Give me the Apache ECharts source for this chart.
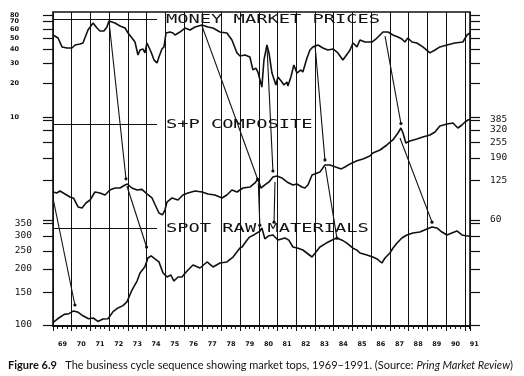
<!DOCTYPE html>
<html>
<head>
<meta charset="utf-8">
<script src="https://cdn.jsdelivr.net/npm/echarts@6/dist/echarts.min.js"></script>
<style>
  html, body { margin: 0; padding: 0; background: #fff; }
  #main { width: 524px; height: 376px; }
</style>
</head>
<body>
<div id="main"></div>
<script>
// monthly-ish readings, [year, value]
const moneyMarket = [
  [1969.0, 53.2], [1969.27, 50.0], [1969.48, 41.7], [1969.75, 40.8], [1970.01, 40.8], [1970.18, 43.4],
  [1970.44, 44.3], [1970.60, 45.2], [1970.87, 58.9], [1971.14, 67.9], [1971.35, 61.3], [1971.51, 57.7],
  [1971.72, 57.7], [1971.88, 62.6], [1971.99, 70.7], [1972.31, 67.9], [1972.58, 63.9], [1972.85, 61.3],
  [1973.01, 55.4], [1973.22, 50.0], [1973.38, 46.1], [1973.54, 35.4], [1973.65, 39.2], [1973.81, 40.0],
  [1973.91, 36.9], [1974.02, 45.2], [1974.24, 37.6], [1974.40, 31.9], [1974.56, 30.1], [1974.66, 34.0],
  [1974.82, 40.0], [1974.93, 41.7], [1975.04, 55.4], [1975.25, 56.5], [1975.41, 55.4], [1975.52, 53.2],
  [1975.78, 56.5], [1976.05, 61.3], [1976.32, 58.9], [1976.59, 62.6], [1976.96, 65.2], [1977.28, 62.6],
  [1977.55, 61.3], [1977.92, 56.5], [1978.29, 55.4], [1978.56, 48.0], [1978.83, 36.9], [1978.99, 34.7],
  [1979.26, 35.4], [1979.52, 34.0], [1979.68, 26.1], [1979.84, 27.1], [1979.95, 25.0], [1980.16, 18.4],
  [1980.27, 31.9], [1980.43, 43.4], [1980.54, 36.9], [1980.70, 24.5], [1980.91, 19.2], [1981.02, 22.6],
  [1981.23, 20.4], [1981.34, 19.2], [1981.50, 20.4], [1981.55, 18.8], [1981.71, 22.6], [1981.87, 28.9],
  [1982.03, 24.5], [1982.25, 26.1], [1982.35, 25.0], [1982.57, 33.3], [1982.73, 39.2], [1982.89, 41.7],
  [1983.16, 43.4], [1983.42, 40.8], [1983.69, 39.2], [1983.96, 40.0], [1984.22, 36.9], [1984.49, 31.9],
  [1984.76, 36.9], [1984.87, 39.2], [1985.03, 45.2], [1985.24, 41.7], [1985.40, 48.0], [1985.67, 46.1],
  [1986.04, 46.1], [1986.31, 50.0], [1986.63, 56.5], [1986.90, 56.5], [1987.16, 53.2], [1987.43, 51.1],
  [1987.64, 49.0], [1987.80, 46.1], [1987.96, 50.0], [1988.18, 46.1], [1988.44, 45.2], [1988.76, 41.7],
  [1989.14, 36.9], [1989.41, 39.2], [1989.67, 41.7], [1990.05, 43.4], [1990.47, 45.2], [1990.90, 46.1],
  [1991.12, 53.2], [1991.28, 55.4]
];
const spComposite = [
  [1969.0, 100.9], [1969.2, 99.1], [1969.37, 102.8], [1969.64, 97.3], [1969.91, 92.0], [1970.1, 90.0],
  [1970.34, 76.4], [1970.55, 75.0], [1970.76, 82.3], [1970.98, 87.0], [1971.24, 100.9], [1971.51, 99.1],
  [1971.78, 95.4], [1972.04, 104.8], [1972.31, 108.7], [1972.58, 108.7], [1972.85, 115.0], [1972.97, 117.1],
  [1973.22, 108.7], [1973.49, 104.8], [1973.75, 106.0], [1974.02, 97.3], [1974.29, 90.3], [1974.45, 80.0],
  [1974.66, 68.3], [1974.85, 66.0], [1974.98, 72.2], [1975.09, 83.8], [1975.36, 90.3], [1975.52, 88.6],
  [1975.68, 87.0], [1975.94, 95.4], [1976.21, 99.1], [1976.59, 102.8], [1976.96, 100.9], [1977.28, 97.3],
  [1977.65, 95.4], [1978.03, 90.3], [1978.29, 95.4], [1978.56, 104.8], [1978.83, 100.9], [1979.15, 108.7],
  [1979.52, 110.7], [1979.79, 119.3], [1979.95, 128.5], [1980.11, 108.7], [1980.32, 115.0], [1980.54, 121.6],
  [1980.75, 133.3], [1980.97, 135.8], [1981.23, 130.9], [1981.50, 121.6], [1981.82, 115.0], [1982.03, 117.0],
  [1982.30, 110.7], [1982.46, 108.7], [1982.62, 115.0], [1982.84, 138.4], [1983.26, 146.0], [1983.53, 166.6],
  [1983.80, 166.6], [1984.10, 160.5], [1984.40, 155.0], [1984.60, 160.5], [1984.87, 170.0], [1985.24, 180.0],
  [1985.56, 186.3], [1985.93, 196.9], [1986.09, 208.2], [1986.47, 220.1], [1986.84, 241.6], [1987.16, 265.1],
  [1987.43, 301.8], [1987.59, 331.3], [1987.70, 301.8], [1987.85, 250.7], [1988.07, 260.2], [1988.44, 270.0],
  [1988.76, 280.3], [1989.14, 290.9], [1989.41, 307.5], [1989.67, 343.9], [1990.05, 356.8], [1990.37, 363.4],
  [1990.63, 331.3], [1990.85, 350.2], [1991.01, 370.2], [1991.17, 384.3], [1991.28, 390.0]
];
const spotRaw = [
  [1969.0, 103], [1969.25, 108], [1969.6, 114], [1969.85, 115], [1970.1, 119], [1970.35, 117],
  [1970.6, 112], [1970.9, 108], [1971.15, 109], [1971.4, 104.5], [1971.67, 107.7], [1971.94, 108],
  [1972.21, 118], [1972.47, 123.4], [1972.74, 127], [1972.95, 133], [1973.22, 154], [1973.49, 172],
  [1973.65, 190], [1973.91, 205], [1974.07, 228.7], [1974.24, 235], [1974.45, 226], [1974.66, 218],
  [1974.88, 190], [1975.09, 181], [1975.30, 185.4], [1975.46, 172.1], [1975.68, 180.9], [1975.89, 180.9],
  [1976.16, 194.8], [1976.48, 209.8], [1976.85, 202.1], [1977.23, 217.7], [1977.55, 204.7], [1977.92, 215.0],
  [1978.29, 217.7], [1978.62, 231.5], [1978.99, 258.8], [1979.10, 262], [1979.36, 285], [1979.5, 296],
  [1979.75, 305], [1980.05, 318], [1980.16, 331], [1980.32, 290], [1980.5, 300], [1980.75, 303.8],
  [1981.02, 285.6], [1981.39, 292.8], [1981.6, 285], [1981.82, 262], [1982.1, 258], [1982.35, 252.4],
  [1982.84, 231.5], [1983.26, 262], [1983.6, 275], [1984.0, 288], [1984.17, 292.8], [1984.45, 285],
  [1984.7, 275], [1985.03, 258], [1985.24, 252], [1985.40, 243.3], [1985.77, 237.3], [1986.09, 231.5],
  [1986.31, 225.9], [1986.57, 215.0], [1986.74, 228.7], [1987.00, 243.3], [1987.16, 258], [1987.38, 275.3],
  [1987.64, 292.8], [1987.91, 303.8], [1988.23, 311.4], [1988.60, 315.2], [1988.98, 327.2], [1989.25, 335.4],
  [1989.51, 331.3], [1989.78, 315.2], [1990.05, 303.8], [1990.31, 311.4], [1990.58, 319.2], [1990.85, 303.8],
  [1991.12, 300.1], [1991.28, 300.1]
];

const mmTicks = [10, 20, 30, 40, 50, 60, 70, 80];
const spTicks = [60, 125, 190, 255, 320, 385];
const rawTicks = [100, 150, 200, 250, 300, 350];
const panelTitles = ['MONEY MARKET PRICES', 'S+P COMPOSITE', 'SPOT RAW MATERIALS'];
const leaderLevels = [73.7, 357, 331];   // level of the short line before each title
const leaderEnd = 1974.56;
// tops linked by the arrows: [year, value, panel] -> [year, value, panel]
const arrows = [
  [[1971.99, 70.7, 0], [1972.90, 129, 1]],
  [[1972.95, 112.8, 1], [1974.00, 262, 2]],
  [[1969.02, 87, 1], [1970.17, 128, 2]],
  [[1976.96, 64, 0], [1979.93, 128.5, 1]],
  [[1979.97, 119, 1], [1980.05, 343, 2]],
  [[1980.43, 43.4, 0], [1980.75, 149, 1]],
  [[1980.86, 121.6, 1], [1980.81, 356, 2]],
  [[1983.0, 43.4, 0], [1983.53, 183, 1]],
  [[1983.55, 160.5, 1], [1984.17, 292, 2]],
  [[1986.74, 52, 0], [1987.59, 360, 1]],
  [[1987.54, 275, 1], [1989.25, 356, 2]]
];

const ink = '#111';
const chart = echarts.init(document.getElementById('main'), null, { renderer: 'canvas' });

function logAxis(range, ticks, side, label, labelValues) {
  return {
    type: 'log', position: side, min: range[0], max: range[1],
    axisLine: { show: false },
    splitLine: { show: false },
    axisTick: ticks
      ? { show: true, customValues: ticks, length: 10, lineStyle: { color: ink, width: 1.2 } }
      : { show: false },
    axisLabel: label
      ? Object.assign({ customValues: labelValues, color: ink, hideOverlap: false }, label)
      : { show: false }
  };
}

const mmRange = [0.1414, 84.97];
const spRange = [8.38, 2855];
const rawRange = [98.77, 4767];
const smallDigits = { fontFamily: 'DejaVu Sans', fontWeight: 'bold', fontSize: 6.5 };
const wideDigits = { fontFamily: 'DejaVu Sans Mono', fontSize: 9.5 };
const mmLabel = Object.assign({ margin: 34, align: 'right' }, smallDigits);

function leader(level) {
  return {
    symbol: 'none', silent: true, label: { show: false },
    lineStyle: { color: ink, width: 1.2, type: 'solid' },
    data: [[{ coord: [1969, level] }, { coord: [leaderEnd, level] }]]
  };
}

const option = {
  animation: false,
  backgroundColor: '#fff',
  grid: { left: 53, right: 54, top: 12, bottom: 50, show: true, borderColor: ink, borderWidth: 1.6 },
  title: {
    left: 3, top: 355,
    text: '{b|Figure 6.9}   The business cycle sequence showing market tops, 1969–1991. (Source: {i|Pring Market Review})',
    textStyle: {
      fontFamily: 'Lato', fontSize: 11, fontWeight: 'normal', color: ink,
      rich: {
        b: { fontFamily: 'Lato', fontSize: 11, fontWeight: 'bold', color: ink },
        i: { fontFamily: 'Lato', fontSize: 11, fontStyle: 'italic', color: ink }
      }
    }
  },
  xAxis: {
    type: 'value', min: 1969, max: 1991.28, interval: 1,
    axisLine: { show: true, onZero: false, lineStyle: { color: ink, width: 2 } },
    axisTick: { show: true, length: 5, lineStyle: { color: ink, width: 1 } },
    minorTick: { show: true, splitNumber: 4, length: 3, lineStyle: { color: ink, width: 1 } },
    splitLine: { show: true, lineStyle: { color: ink, width: 1 } },
    axisLabel: Object.assign({}, smallDigits, {
      formatter: v => Number.isInteger(v) ? String(v).slice(2) : '',
      align: 'left', padding: [0, 0, 0, 5], margin: 15, color: ink
    })
  },
  yAxis: [
    logAxis(mmRange, mmTicks, 'left', mmLabel, mmTicks.slice(0, -1)),
    logAxis(mmRange, mmTicks, 'right', null),
    logAxis(spRange, spTicks, 'left', null),
    logAxis(spRange, spTicks, 'right', Object.assign({ margin: 20, align: 'left' }, wideDigits), spTicks),
    logAxis(rawRange, rawTicks, 'left', Object.assign({ margin: 21, align: 'right' }, wideDigits), rawTicks),
    logAxis(rawRange, rawTicks, 'right', null),
    // top money-market label sits too close to the next one for a single axis
    logAxis(mmRange, null, 'left', mmLabel, mmTicks.slice(-1))
  ],
  series: [
    { name: panelTitles[0], type: 'line', yAxisIndex: 0, data: moneyMarket, showSymbol: false,
      lineStyle: { color: ink, width: 1.6 }, markLine: leader(leaderLevels[0]) },
    { name: panelTitles[1], type: 'line', yAxisIndex: 3, data: spComposite, showSymbol: false,
      lineStyle: { color: ink, width: 1.6 }, markLine: leader(leaderLevels[1]) },
    { name: panelTitles[2], type: 'line', yAxisIndex: 4, data: spotRaw, showSymbol: false,
      lineStyle: { color: ink, width: 1.6 }, markLine: leader(leaderLevels[2]) }
  ]
};
chart.setOption(option);

// arrows and panel titles, placed through the axes
const panelAxis = [0, 3, 4];
const toPx = p => chart.convertToPixel({ xAxisIndex: 0, yAxisIndex: panelAxis[p[2]] }, [p[0], p[1]]);
const marks = [];
arrows.forEach(([from, to]) => {
  const a = toPx(from), b = toPx(to);
  marks.push({ type: 'line', z: 20, shape: { x1: a[0], y1: a[1], x2: b[0], y2: b[1] },
    style: { stroke: ink, lineWidth: 1.1 } });
  marks.push({ type: 'circle', z: 20, shape: { cx: b[0], cy: b[1], r: 1.6 }, style: { fill: ink } });
});
panelTitles.forEach((t, i) => {
  const p = toPx([leaderEnd, leaderLevels[i], i]);
  marks.push({ type: 'text', z: 20, x: 166, y: p[1] + 0.5, scaleX: 1.44,
    style: { text: t, x: 0, y: 0, verticalAlign: 'middle', fill: ink, font: '13px "DejaVu Sans Mono"' } });
});
chart.setOption({ graphic: marks });
</script>
</body>
</html>
